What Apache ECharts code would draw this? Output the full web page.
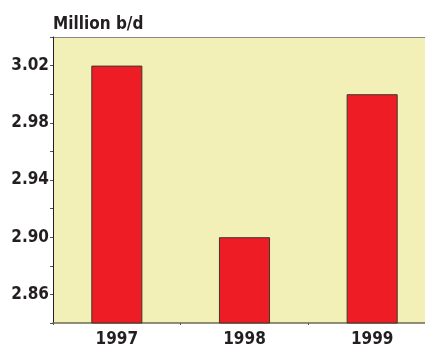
<!DOCTYPE html>
<html>
<head>
<meta charset="utf-8">
<script src="https://cdn.jsdelivr.net/npm/echarts@6/dist/echarts.min.js"></script>
<style>
  html, body { margin: 0; padding: 0; background: #fff; }
  #chart { width: 425px; height: 347px; }
</style>
</head>
<body>
<div id="chart"></div>
<script>
// 数据
const years = ['1997', '1998', '1999'];
const output = [3.02, 2.90, 3.00];
const labelTicks = [2.86, 2.90, 2.94, 2.98, 3.02];

const font = "'Liberation Sans Narrow', 'DejaVu Sans Condensed', 'Roboto', sans-serif";

const chart = echarts.init(document.getElementById('chart'), null, { renderer: 'canvas' });

const option = {
  animation: false,
  backgroundColor: '#ffffff',
  title: {
    text: 'Million b/d',
    left: 48,
    top: 11,
    textStyle: { fontFamily: font, fontWeight: 'bold', fontSize: 17, color: '#231f20' }
  },
  grid: {
    left: 53,
    top: 37,
    width: 383,
    bottom: 24,
    outerBoundsMode: 'none',
    containLabel: false,
    show: true,
    backgroundColor: '#f2f0b6',
    borderWidth: 0
  },
  xAxis: {
    type: 'category',
    data: years,
    axisLine: { show: true, lineStyle: { color: '#6b6b50', width: 1.5 } },
    axisTick: { show: true, length: 2, lineStyle: { color: '#555' } },
    axisLabel: {
      fontFamily: font, fontWeight: 'bold', fontSize: 17, color: '#231f20', margin: 8
    }
  },
  yAxis: {
    type: 'value',
    min: 2.84,
    max: 3.04,
    interval: 0.02,
    axisLine: { show: true, lineStyle: { color: '#231f20', width: 1 } },
    axisTick: { show: true, length: 3, lineStyle: { color: '#555' } },
    splitLine: { show: false },
    axisLabel: {
      fontFamily: font, fontWeight: 'bold', fontSize: 17, color: '#231f20', margin: 4,
      formatter: (v) => {
        const hit = labelTicks.find(t => Math.abs(t - v) < 1e-6);
        return hit !== undefined ? hit.toFixed(2) : '';
      }
    }
  },
  graphic: [
    // 顶部灰线
    { type: 'line', shape: { x1: 53, y1: 37.5, x2: 425, y2: 37.5 }, style: { stroke: '#888', lineWidth: 1 } }
  ],
  series: [
    {
      type: 'bar',
      data: output,
      barWidth: '40%',
      itemStyle: { color: '#ee1c25', borderColor: '#3a3a2a', borderWidth: 1 }
    }
  ]
};

chart.setOption(option);
</script>
</body>
</html>
